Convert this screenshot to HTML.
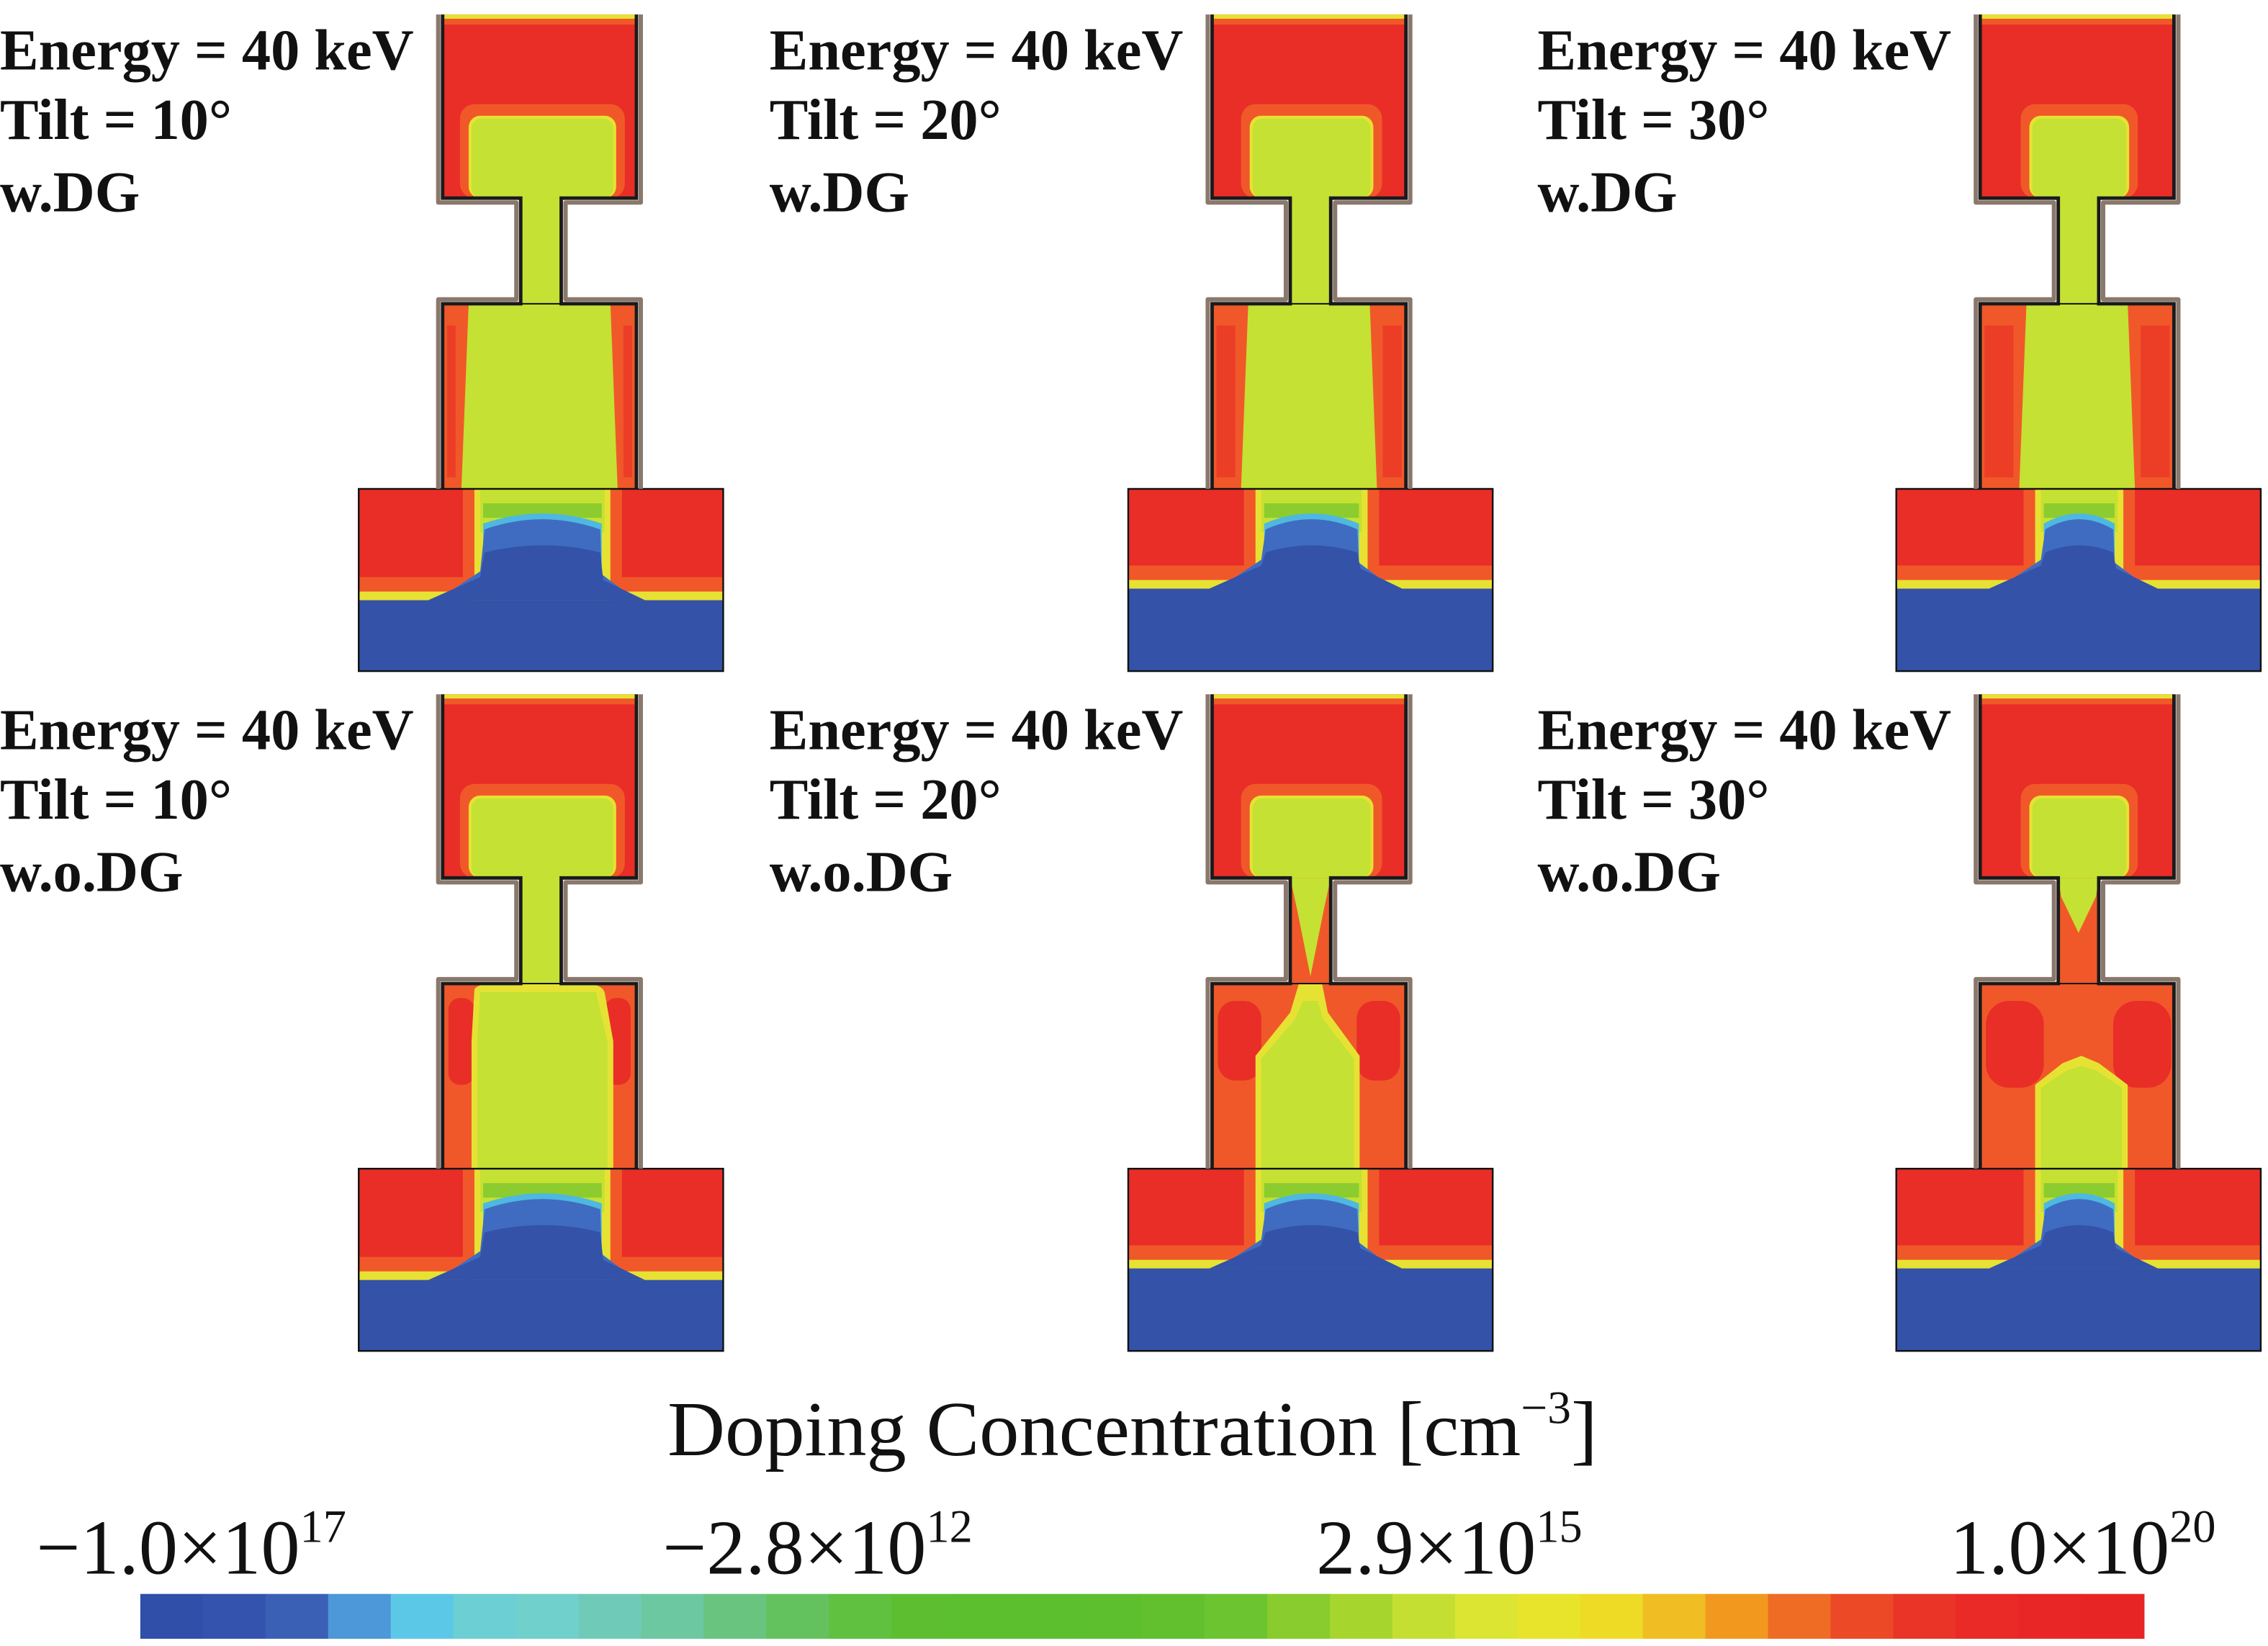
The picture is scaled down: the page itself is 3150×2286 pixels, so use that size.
<!DOCTYPE html>
<html><head><meta charset="utf-8"><style>
html,body{margin:0;padding:0;background:#fff;}
svg{display:block;}
.lab{font-family:"Liberation Serif","DejaVu Serif",serif;font-weight:bold;font-size:40px;fill:#111;}
.t{font-family:"Liberation Serif","DejaVu Serif",serif;fill:#111;}
</style></head><body>
<svg id="fig" xmlns="http://www.w3.org/2000/svg" width="3150" height="2286" viewBox="0 0 1568 1138" preserveAspectRatio="none">
<g id="panels"></g>
<text class="t" font-family="Liberation Serif, serif" x="783" y="1006" font-size="54" text-anchor="middle" textLength="643" lengthAdjust="spacingAndGlyphs">Doping Concentration [cm<tspan dy="-22" font-size="32">−3</tspan><tspan dy="22">]</tspan></text>
<g id="ticks"></g>
<g id="cbar"></g>
</svg>
<script>
const panelTitles = ["Tilt = 10°","Tilt = 20°","Tilt = 30°","Tilt = 10°","Tilt = 20°","Tilt = 30°"];
const panelGate = ["w.DG","w.DG","w.DG","w.o.DG","w.o.DG","w.o.DG"];
const panelTilt = [10,20,30,10,20,30];
const tickMant = ["−1.0×10","−2.8×10","2.9×10","1.0×10"];
const tickExp = ["17","12","15","20"];
const cbColors = ["#2f4fa8","#3353ae","#3a60b6","#4c98d8","#5cc8e8","#6bcfd4","#70d0cc","#6fcbb8","#6cc8a0","#68c47e","#64c25e","#60c040","#5dbf30","#5cbf2e","#5cbf2e","#5ebf2e","#62c02f","#6cc431","#88cc2e","#a6d52e","#c4df32","#dce532","#e8e42c","#eedb26","#f0be22","#f2981f","#ef6c24","#ec4a26","#ea3427","#e92a27","#e82626","#e82525"];
const NS="http://www.w3.org/2000/svg";
function mk(parent,tag,attrs){const e=document.createElementNS(NS,tag);for(const k in attrs)e.setAttribute(k,attrs[k]);parent.appendChild(e);return e;}
const R="#e92d27",O="#f0582a",Y="#e6e233",G="#c5e133",G2="#8ccc2e",B="#3352a8",B2="#3f6cc0",C="#4fb8e0";
const panels=document.getElementById('panels');
const colX=[248,780,1311], rowY=[10,480];
panelTilt.forEach((tilt,i)=>{
  const dg = i<3;
  const ox=colX[i%3], oy=rowY[Math.floor(i/3)];
  const g=mk(panels,'g',{transform:`translate(${ox},${oy})`});
  
  
  const lg=mk(panels,'g',{});
  
  
  const lx = [0,532,1063][i%3], ly=oy;
  [["Energy = 40 keV",38],[panelTitles[i],86],[panelGate[i],136]].forEach(([s,y])=>{
    const t=mk(lg,'text',{class:'lab','font-family':'Liberation Serif, serif','font-weight':'bold',x:lx,y:ly+y});t.textContent=s;
  });
  const k=(tilt-10)/20;
  const gx0=78+k*16, gx1=176-k*17;
  mk(g,'rect',{x:58,y:0,width:134,height:127,fill:R});
  mk(g,'rect',{x:58,y:0,width:134,height:3,fill:Y});
  mk(g,'rect',{x:58,y:3,width:134,height:4,fill:O});
  mk(g,'rect',{x:gx0-8,y:62,width:gx1-gx0+16,height:65,rx:10,fill:O});
  mk(g,'rect',{x:gx0-2,y:70,width:gx1-gx0+4,height:57,rx:8,fill:Y});
  mk(g,'rect',{x:gx0,y:72,width:gx1-gx0,height:55,rx:7,fill:G});
  mk(g,'rect',{x:112,y:127,width:28,height:73,fill:G});
  if(!dg && tilt>=20){
    mk(g,'rect',{x:112,y:127,width:28,height:73,fill:O});
    const vy = tilt===30?165:195;
    mk(g,'polygon',{points:`112,127 140,127 ${tilt===30?138:135},${tilt===30?140:150} 126,${vy} ${tilt===30?114:117},${tilt===30?140:150}`,fill:G});
  }
  if(dg){
    const sw=18+k*14;
    mk(g,'rect',{x:58,y:200,width:134,height:128,fill:G});
    mk(g,'polygon',{points:`58,200 ${58+sw},200 ${58+sw-5},328 58,328`,fill:O});
    mk(g,'polygon',{points:`192,200 ${192-sw},200 ${192-sw+5},328 192,328`,fill:O});
    mk(g,'rect',{x:61,y:215,width:Math.max(6,sw-12),height:105,fill:R,opacity:0.6});
    mk(g,'rect',{x:192-sw+9,y:215,width:Math.max(6,sw-12),height:105,fill:R,opacity:0.6});
  } else if(tilt===10){
    mk(g,'rect',{x:58,y:200,width:134,height:128,fill:O});
    mk(g,'rect',{x:62,y:210,width:18,height:60,rx:8,fill:R});
    mk(g,'rect',{x:170,y:210,width:18,height:60,rx:8,fill:R});
    mk(g,'path',{d:'M80,204 Q82,200 95,200 L155,200 Q168,200 170,206 L176,240 L176,328 L78,328 L78,240 Z',fill:Y});
    mk(g,'path',{d:'M84,206 L164,206 L172,240 L172,328 L82,328 L82,240 Z',fill:G});
  } else if(tilt===20){
    mk(g,'rect',{x:58,y:200,width:134,height:128,fill:O});
    mk(g,'rect',{x:62,y:212,width:30,height:55,rx:12,fill:R});
    mk(g,'rect',{x:158,y:212,width:30,height:55,rx:12,fill:R});
    mk(g,'path',{d:'M118,200 L134,200 L138,220 L160,250 L160,328 L88,328 L88,250 L112,220 Z',fill:Y});
    mk(g,'path',{d:'M121,212 L131,212 L135,225 L156,252 L156,328 L92,328 L92,252 L115,225 Z',fill:G});
  } else {
    mk(g,'rect',{x:58,y:200,width:134,height:128,fill:O});
    mk(g,'rect',{x:62,y:212,width:40,height:60,rx:16,fill:R});
    mk(g,'rect',{x:150,y:212,width:40,height:60,rx:16,fill:R});
    mk(g,'path',{d:'M96,328 L96,270 L115,255 L128,250 L140,255 L160,270 L160,328 Z',fill:Y});
    mk(g,'path',{d:'M100,328 L100,272 L118,260 L128,257 L138,260 L156,272 L156,328 Z',fill:G});
  }
  const subY = tilt===10?405:397;
  mk(g,'rect',{x:0,y:328,width:252,height:126,fill:R});
  mk(g,'rect',{x:0,y:subY-16,width:252,height:16,fill:O});
  mk(g,'rect',{x:0,y:subY-6,width:252,height:6,fill:Y});
  const cx0=gx0+6, cx1=gx1-6;
  mk(g,'rect',{x:cx0-12,y:328,width:cx1-cx0+24,height:subY-328,fill:O});
  mk(g,'rect',{x:cx0-4,y:328,width:cx1-cx0+8,height:subY-328,fill:Y});
  mk(g,'rect',{x:cx0,y:328,width:cx1-cx0,height:30,fill:G});
  mk(g,'rect',{x:cx0+2,y:338,width:cx1-cx0-4,height:10,fill:G2});
  mk(g,'path',{d:`M${cx0+2},${subY} L${cx0+2},352 Q${(cx0+cx1)/2},338 ${cx1-2},352 L${cx1-2},${subY} Z`,fill:C});
  mk(g,'path',{d:`M${cx0-30},${subY} L${cx0},${subY-20} L${cx0+3},356 Q${(cx0+cx1)/2},342 ${cx1-3},356 L${cx1-2},${subY-18} L${cx1+22},${subY} Z`,fill:B2});
  mk(g,'path',{d:`M${cx0-36},${subY} L${cx0},${subY-16} L${cx0+3},372 Q${(cx0+cx1)/2},362 ${cx1-3},372 L${cx1-1},${subY-14} L${cx1+28},${subY} Z`,fill:B});
  mk(g,'rect',{x:0,y:subY,width:252,height:454-subY,fill:B});
  mk(g,'rect',{x:0,y:328,width:252,height:126,fill:'none',stroke:'#111','stroke-width':1.2});
  const dL='M58,328 L58,200 L112,200 L112,127 L58,127 L58,0';
  const dR='M192,0 L192,127 L140,127 L140,200 L192,200 L192,328';
  const dLo='M55,328 L55,197 L109,197 L109,130 L55,130 L55,0';
  const dRo='M195,0 L195,130 L143,130 L143,197 L195,197 L195,328';
  mk(g,'path',{d:dLo+' '+dRo,fill:'none',stroke:'#8a786c','stroke-width':3,'stroke-linejoin':'round'});
  mk(g,'path',{d:dL+' '+dR,fill:'none',stroke:'#1a1a1a','stroke-width':2.4});
  mk(g,'line',{x1:112,y1:200,x2:140,y2:200,stroke:'#111','stroke-width':1});
});
const cb=document.getElementById('cbar');
const cbX0=97,cbX1=1482,segW=(cbX1-cbX0)/cbColors.length;
cbColors.forEach((c,j)=>{
  const r=mk(cb,'rect',{x:cbX0+j*segW,y:1102,width:segW+0.6,height:31,fill:c});
  
  
});
const tk=document.getElementById('ticks');
const tickXs=[25,458,910,1348];
tickMant.forEach((m,j)=>{
  const t=mk(tk,'text',{class:'t','font-family':'Liberation Serif, serif',x:tickXs[j],y:1088,'font-size':54});
  
  
  t.textContent=m;
  const s=mk(t,'tspan',{dy:-22,'font-size':32});s.textContent=tickExp[j];
});
</script>
</body></html>
